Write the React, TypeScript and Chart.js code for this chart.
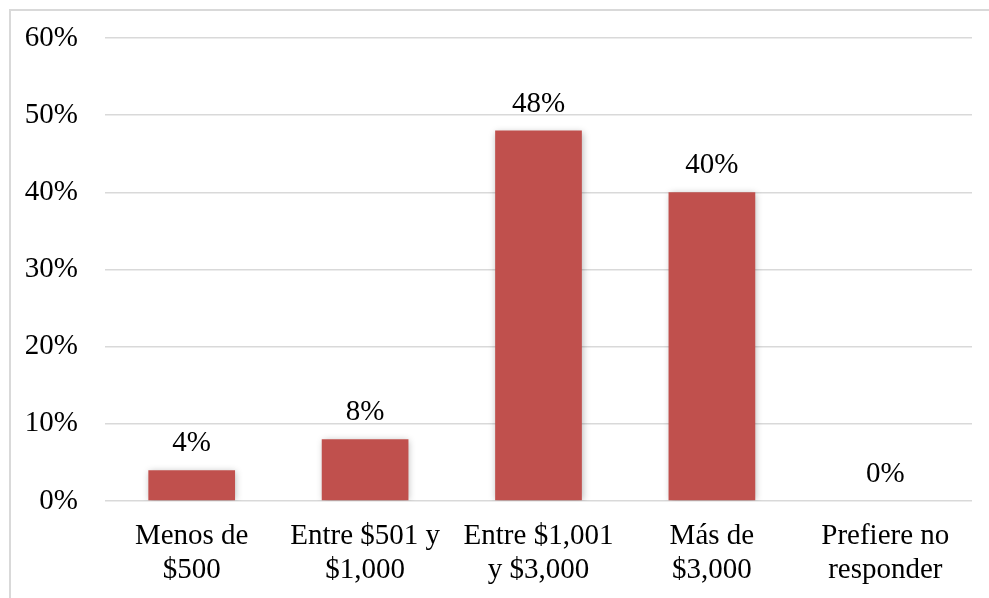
import React, { useEffect, useRef } from "react";
import { Chart, registerables } from "chart.js";

Chart.register(...registerables);

const categories: string[][] = [
  ["Menos de", "$500"],
  ["Entre $501 y", "$1,000"],
  ["Entre $1,001", "y $3,000"],
  ["Más de", "$3,000"],
  ["Prefiere no", "responder"],
];
const values: number[] = [4, 8, 48, 40, 0];
const yTicks: number[] = [0, 10, 20, 30, 40, 50, 60];

const FONT = "'Liberation Serif', 'Times New Roman', serif";
const FS = 29;

export default function App() {
  const ref = useRef<HTMLCanvasElement | null>(null);

  useEffect(() => {
    document.body.style.margin = "0";
    const canvas = ref.current!;
    const framePlugin = {
      id: "frame",
      beforeDraw(chart: any) {
        const ctx = chart.ctx;
        ctx.save();
        ctx.strokeStyle = "#d9d9d9";
        ctx.lineWidth = 2;
        ctx.beginPath();
        ctx.moveTo(10, 600);
        ctx.lineTo(10, 10);
        ctx.lineTo(989, 10);
        ctx.stroke();
        ctx.restore();
      },
    };
    const shadowPlugin = {
      id: "shadow",
      beforeDatasetsDraw(chart: any) {
        const ctx = chart.ctx;
        ctx.save();
        ctx.shadowColor = "rgba(0,0,0,0.28)";
        ctx.shadowBlur = 7;
        ctx.shadowOffsetX = 1;
        ctx.shadowOffsetY = 1;
      },
      afterDatasetsDraw(chart: any) {
        chart.ctx.restore();
      },
    };
    const labelPlugin = {
      id: "valueLabels",
      afterDatasetsDraw(chart: any) {
        const ctx = chart.ctx;
        const meta = chart.getDatasetMeta(0);
        ctx.save();
        ctx.font = `${FS}px ${FONT}`;
        ctx.fillStyle = "#000";
        ctx.textAlign = "center";
        ctx.textBaseline = "alphabetic";
        meta.data.forEach((bar: any, i: number) => {
          ctx.fillText(`${values[i]}%`, bar.x, bar.y - 19);
        });
        ctx.restore();
      },
    };
    const chart = new Chart(canvas, {
      type: "bar",
      data: {
        labels: categories,
        datasets: [
          {
            data: values,
            backgroundColor: "#C0504D",
            barPercentage: 0.5,
            categoryPercentage: 1,
          },
        ],
      },
      options: {
        animation: false,
        responsive: false,
        maintainAspectRatio: false,
        layout: { padding: { left: 0, right: 17, top: 38, bottom: 0 } },
        plugins: {
          legend: { display: false },
          tooltip: { enabled: false },
        },
        scales: {
          x: {
            grid: { display: false, drawTicks: false },
            border: { display: false },
            ticks: {
              color: "#000",
              font: { family: FONT, size: FS, lineHeight: 1.15 },
              padding: 19,
              maxRotation: 0,
              autoSkip: false,
            },
            afterFit(scale: any) {
              scale.height = 97;
              scale.paddingLeft = 0;
              scale.paddingRight = 0;
            },
          },
          y: {
            min: 0,
            max: 60,
            afterBuildTicks(scale: any) {
              scale.ticks = yTicks.map((v) => ({ value: v }));
            },
            grid: { color: "#d9d9d9", lineWidth: 1.5, drawTicks: false },
            border: { display: false },
            ticks: {
              color: "#000",
              font: { family: FONT, size: FS },
              padding: 27,
              callback: (v: any) => `${v}%`,
            },
            afterFit(scale: any) {
              scale.width = 105;
              scale.paddingTop = 0;
              scale.paddingBottom = 0;
            },
          },
        },
      },
      plugins: [framePlugin, shadowPlugin, labelPlugin],
    });
    return () => chart.destroy();
  }, []);

  return (
    <div style={{ position: "absolute", left: 0, top: 0, width: 989, height: 598 }}>
      <canvas ref={ref} width={989} height={598} style={{ width: 989, height: 598 }} />
    </div>
  );
}
